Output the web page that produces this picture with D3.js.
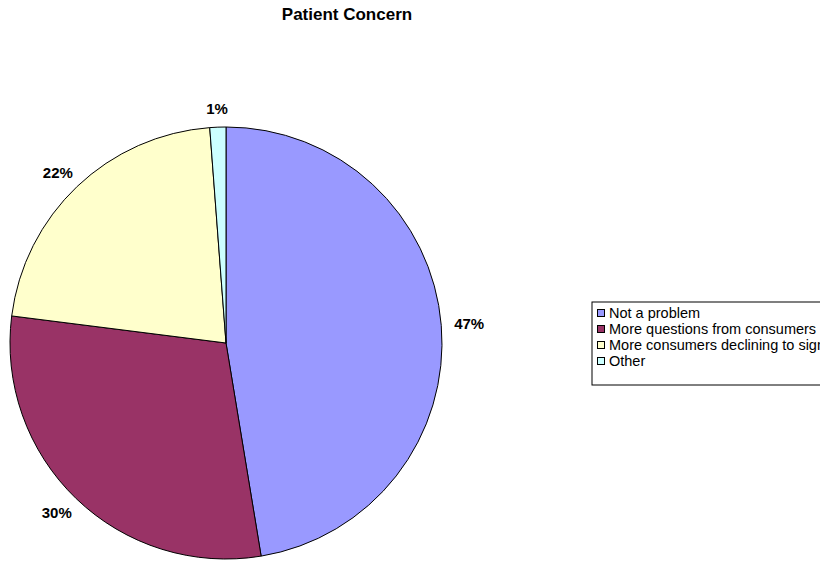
<!DOCTYPE html>
<html>
<head>
<meta charset="utf-8">
<script src="https://cdn.jsdelivr.net/npm/d3@7"></script>
<style>
  html, body { margin: 0; padding: 0; background: #fff; }
  svg { display: block; font-family: "Liberation Sans", Arial, sans-serif; }
</style>
</head>
<body>
<svg id="chart" width="820" height="563"></svg>
<script>
const title = "Patient Concern";
const categories = ["Not a problem", "More questions from consumers", "More consumers declining to sign", "Other"];
const values = [47.4, 29.6, 21.8, 1.2];
const colors = ["#9999FF", "#993366", "#FFFFCC", "#CCFFFF"];

const svg = d3.select("#chart");
const cx = 226, cy = 343, r = 216;

svg.append("text")
  .attr("x", 347).attr("y", 20)
  .attr("text-anchor", "middle")
  .style("font-size", "17px").style("font-weight", "bold")
  .text(title);

const data = categories.map((c, i) => ({ name: c, value: values[i], color: colors[i] }));
const total = d3.sum(values);
const pie = d3.pie().value(d => d.value).sort(null);
const arcs = pie(data);
const arc = d3.arc().innerRadius(0).outerRadius(r);

const g = svg.append("g").attr("transform", `translate(${cx},${cy})`);
g.selectAll("path").data(arcs).join("path")
  .attr("d", arc)
  .attr("fill", d => d.data.color)
  .attr("stroke", "#000").attr("stroke-width", 1);

const fmt = v => Math.round(v / total * 100) + "%";
const labels = g.selectAll("text.lbl").data(arcs).join("text")
  .attr("class", "lbl")
  .attr("text-anchor", "middle")
  .attr("dominant-baseline", "central")
  .style("font-size", "15px").style("font-weight", "bold")
  .text(d => fmt(d.data.value));
labels.each(function(d) {
  const bb = this.getBBox();
  const a = (d.startAngle + d.endAngle) / 2;
  const gap = 13;
  const x = (r + gap + bb.width / 2) * Math.sin(a);
  const y = -(r + gap + 6) * Math.cos(a);
  d3.select(this).attr("x", x).attr("y", y);
});

// legend
const lx = 592, ly = 302;
const leg = svg.append("g").attr("transform", `translate(${lx},${ly})`);
leg.append("rect").attr("x", 0).attr("y", 0).attr("width", 300).attr("height", 83)
  .attr("fill", "#fff").attr("stroke", "#000").attr("stroke-width", 1);
const rows = leg.selectAll("g.row").data(data).join("g")
  .attr("class", "row")
  .attr("transform", (d, i) => `translate(5,${11 + i * 16})`);
rows.append("rect").attr("x", 0.5).attr("y", -3.5).attr("width", 7).attr("height", 7)
  .attr("fill", d => d.color).attr("stroke", "#000").attr("stroke-width", 1);
rows.append("text").attr("x", 12).attr("y", 0)
  .attr("dominant-baseline", "central")
  .style("font-size", "14.5px")
  .text(d => d.name);
</script>
</body>
</html>
